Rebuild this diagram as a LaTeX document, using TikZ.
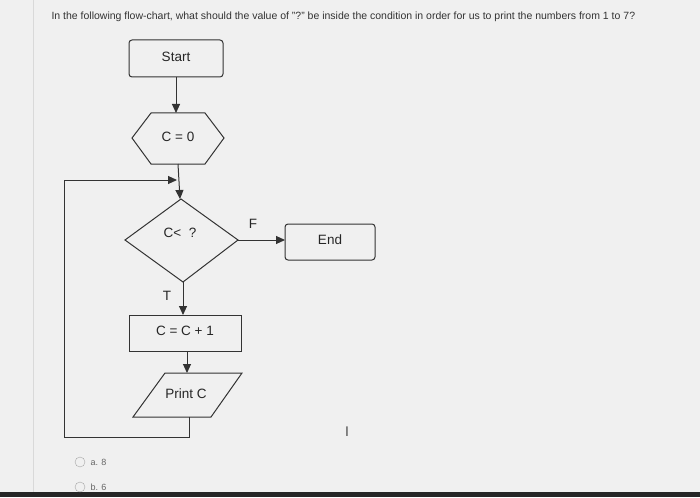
\documentclass[tikz,border=0pt]{standalone}
\usepackage{fontspec}
\setmainfont{Liberation Sans}
\usetikzlibrary{arrows.meta}
\begin{document}
\begin{tikzpicture}[x=1pt,y=-1pt,
  ln/.style={draw=black!80,line width=1pt},
  arr/.style={ln,-{Triangle[length=9pt,width=8pt]}},
  lbl/.style={font=\fontsize{13.5}{15}\selectfont,text=black!85}]
\useasboundingbox (0,0) rectangle (700,497);
\fill[black!6] (0,0) rectangle (700,497);
\fill[black!85] (0,492) rectangle (700,497);
\draw[black!15] (33,0) -- (33,492);
\node[anchor=west,font=\fontsize{10.5}{12}\selectfont,text=black!80] (title) at (48,17) {In the following flow-chart, what should the value of "?" be inside the condition in order for us to print the numbers from 1 to 7?};
% shapes
\draw[ln,rounded corners=3pt] (129,40) rectangle (223,77);
\node[lbl] (start) at (176,57) {Start};
\draw[ln] (132,138) -- (151,113) -- (205,113) -- (224,138) -- (205,164) -- (151,164) -- cycle;
\node[lbl] (c0) at (178,137) {C = 0};
\draw[ln] (181,199) -- (238,240) -- (183,282) -- (125,240) -- cycle;
\node[lbl] (cond) at (180,233) {C<~~?};
\draw[ln,rounded corners=3pt] (285,224) rectangle (375,260);
\node[lbl] (end) at (330,240) {End};
\draw[ln] (129,315) rectangle (241,351);
\node[lbl] (inc) at (185,331) {C = C + 1};
\draw[ln] (165,373) -- (242,373) -- (211,417) -- (133,417) -- cycle;
\node[lbl] (print) at (186,394) {Print C};
% connectors
\coordinate (s1) at (176,77); \coordinate (s2) at (176,113);
\draw[arr] (s1) -- (s2);
\coordinate (h1) at (178,164); \coordinate (d0) at (180,199);
\draw[arr] (h1) -- (d0);
\coordinate (dr) at (238,240); \coordinate (e0) at (285,240);
\draw[arr] (dr) -- (e0);
\node[lbl] (f) at (253,224) {F};
\coordinate (db) at (183,282); \coordinate (i0) at (183,315);
\draw[arr] (db) -- (i0);
\node[lbl] (t) at (167,296) {T};
\coordinate (i1) at (187,351); \coordinate (p0) at (187,373);
\draw[arr] (i1) -- (p0);
\coordinate (p1) at (189,417); \coordinate (loopin) at (177,180);
\draw[arr] (p1) -- (189,437) -- (64,437) -- (64,180) -- (loopin);
% cursor glyph
\node[font=\fontsize{14}{14}\selectfont,text=black!70] (cur) at (347,432) {I};
% options
\draw[black!35] (80,462) circle (5);
\node[anchor=west,font=\fontsize{9}{10}\selectfont,text=black!60] (oa) at (87,462) {a. 8};
\draw[black!35] (80,487) circle (5);
\node[anchor=west,font=\fontsize{9}{10}\selectfont,text=black!60] (ob) at (87,487) {b. 6};
\end{tikzpicture}
\end{document}
